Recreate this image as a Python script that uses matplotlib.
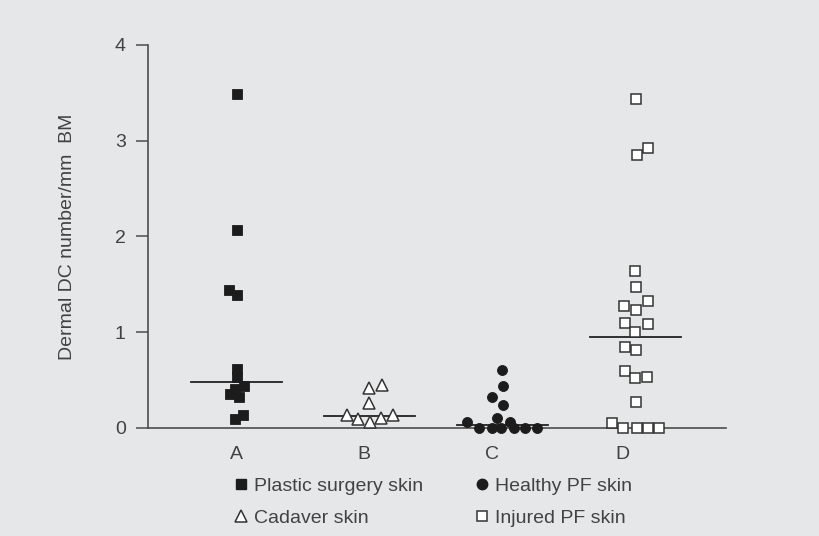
import matplotlib
matplotlib.use("Agg")
import matplotlib.pyplot as plt
from matplotlib.lines import Line2D
import numpy as np

plt.rcParams['font.family'] = ['Liberation Sans', 'DejaVu Sans']

# values (dermal DC number / mm BM)
groups = ["A", "B", "C", "D"]
plastic = [3.49, 2.07, 1.44, 1.39, 0.62, 0.53, 0.44, 0.41, 0.35, 0.32, 0.14, 0.09]
cadaver = [0.42, 0.45, 0.26, 0.135, 0.09, 0.065, 0.10, 0.135]
healthy = [0.61, 0.44, 0.32, 0.24, 0.10, 0.06, 0.065, 0, 0, 0, 0, 0, 0]
injured = [3.44, 2.92, 2.85, 1.64, 1.47, 1.33, 1.27, 1.23, 1.10, 1.09, 1.00,
           0.85, 0.81, 0.60, 0.52, 0.53, 0.27, 0.05, 0, 0, 0, 0]
medians = [0.48, 0.125, 0.035, 0.95]

# horizontal scatter of the points (pixels at this figure size)
plastic_jit = [0.2, 0.2, -7.5, 0.8, 0.2, 0.2, 7.5, -1.5, -6.5, 2.2, 6.8, -1.5]
cadaver_jit = [-0.2, 12.8, -0.2, -22.8, -11.5, 0.5, 11.8, 23.8]
healthy_jit = [0, 1, -10.7, 1, -5.3, -35.7, 7.3, -23, -10.3, -1, 11.7, 22.7, 35]
injured_jit = [0.7, 12.3, 1.3, -0.3, 0.7, 12.3, -11.7, 0.7, -10.7, 12.3, 0,
               -10.7, 0.7, -10.3, -0.7, 12, 0.7, -23.7, -12, 1.3, 12.3, 23.3]
label_pos = [1, 1.955, 2.92, 3.90]
px = 133.0  # pixels per category step

bg = "#e6e7e9"
ink = "#1c1c1c"
txt = "#424242"

fig = plt.figure(figsize=(8.2, 5.36), dpi=100, facecolor=bg)
ax = fig.add_axes([148 / 820, 1 - 428 / 536, (726 - 148) / 820, (428 - 45) / 536])
ax.set_facecolor(bg)

series = [
    (plastic, plastic_jit, dict(marker='s', ms=6.8, mfc=ink, mec=ink, mew=0.6)),
    (cadaver, cadaver_jit, dict(marker='^', ms=8.5, mfc='white', mec='#333333', mew=1.1)),
    (healthy, healthy_jit, dict(marker='o', ms=7.2, mfc=ink, mec=ink, mew=0.6)),
    (injured, injured_jit, dict(marker='s', ms=6.6, mfc='white', mec='#333333', mew=1.1)),
]
for i, (vals, jit, st) in enumerate(series):
    xs = i + 1 + np.array(jit) / px
    ax.plot(xs, vals, ls='none', clip_on=False, zorder=3, **st)
    ax.plot([i + 1 - 0.34, i + 1 + 0.34], [medians[i], medians[i]],
            color='#222222', lw=1.3, zorder=2)

ax.set_xlim(1 - 88.5 / px, 1 + 489.5 / px)
ax.set_ylim(0, 4)
ax.set_yticks([0, 1, 2, 3, 4])
ax.set_xticks(label_pos)
ax.set_xticklabels(groups)
for s in ['top', 'right']:
    ax.spines[s].set_visible(False)
for s in ['left', 'bottom']:
    ax.spines[s].set_color('#4d4d4d')
    ax.spines[s].set_linewidth(1.2)
ax.tick_params(axis='y', length=9, width=1.1, color='#4d4d4d', pad=7,
               labelsize=14, labelcolor=txt, direction='out')
ax.tick_params(axis='x', length=0, pad=13, labelsize=14, labelcolor=txt)
ax.set_ylabel("Dermal DC number/mm  BM", fontsize=14, color=txt, labelpad=28)

handles = [
    Line2D([], [], ls='none', marker='s', ms=6.5, mfc=ink, mec=ink),
    Line2D([], [], ls='none', marker='^', ms=8, mfc='white', mec='#333333', mew=1.1),
    Line2D([], [], ls='none', marker='o', ms=7.5, mfc=ink, mec=ink),
    Line2D([], [], ls='none', marker='s', ms=6.5, mfc='white', mec='#333333', mew=1.1),
]
labels = ["Plastic surgery skin", "Cadaver skin", "Healthy PF skin", "Injured PF skin"]
leg = fig.legend(handles, labels, ncol=2, loc='upper left',
                 bbox_to_anchor=(0.285, 0.11), frameon=False, fontsize=14,
                 handlelength=0.75, handletextpad=0.3, columnspacing=2.63,
                 labelspacing=0.75, borderpad=0, borderaxespad=0)
for t in leg.get_texts():
    t.set_color(txt)

fig.savefig("out.png", dpi=100, facecolor=bg)
